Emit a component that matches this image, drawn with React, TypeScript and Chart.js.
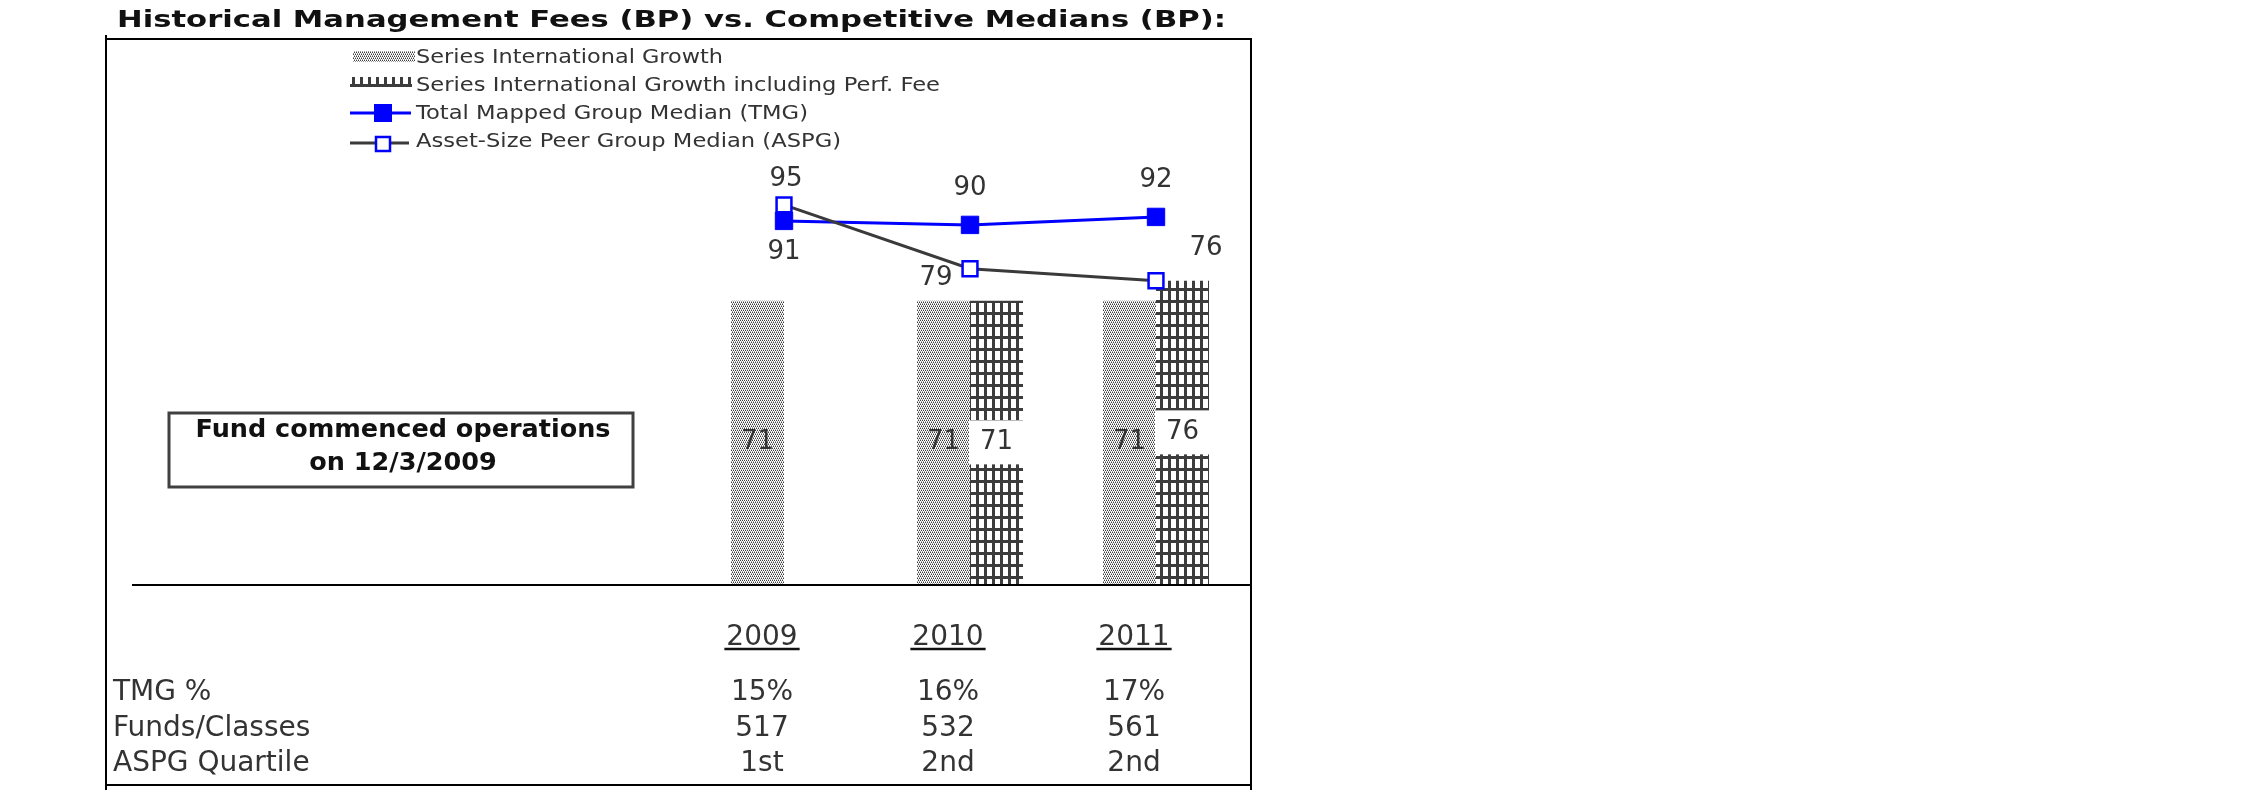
import React, { useEffect, useRef } from 'react';
import { Chart, registerables } from 'chart.js';

Chart.register(...registerables);

// ---------- data ----------
const TITLE = 'Historical Management Fees (BP) vs. Competitive Medians (BP):';
const LEAD_SLOTS = ['', '', ''];
const YEARS = ['2009', '2010', '2011'];
const SERIES_NAMES = [
  'Series International Growth',
  'Series International Growth including Perf. Fee',
  'Total Mapped Group Median (TMG)',
  'Asset-Size Peer Group Median (ASPG)',
];
const BASE_FEE: (number | null)[] = [71, 71, 71];
const PERF_FEE: (number | null)[] = [null, 71, 76];
const TMG: (number | null)[] = [91, 90, 92];
const ASPG: (number | null)[] = [95, 79, 76];
const Y_MAX = 100;

const TABLE_LABELS = ['TMG %', 'Funds/Classes', 'ASPG Quartile'];
const TMG_PCT = ['15%', '16%', '17%'];
const FUNDS_CLASSES = ['517', '532', '561'];
const ASPG_QUARTILE = ['1st', '2nd', '2nd'];
const NOTE_LINES = ['Fund commenced operations', 'on 12/3/2009'];

// label placement for line series (offsets from the point)
const TMG_LABEL_OFFSETS = [
  { dx: 0, dy: 31 },
  { dx: 0, dy: -37 },
  { dx: 0, dy: -37 },
];
const ASPG_LABEL_OFFSETS = [
  { dx: 2, dy: -26 },
  { dx: -34, dy: 9 },
  { dx: 50, dy: -33 },
];

const FONT = '"DejaVu Sans", Verdana, sans-serif';
const TEXT_COLOR = '#333333';

function makeDotPattern(ctx: CanvasRenderingContext2D): CanvasPattern | string {
  const c = document.createElement('canvas');
  c.width = 4;
  c.height = 4;
  const g = c.getContext('2d')!;
  g.fillStyle = '#ffffff';
  g.fillRect(0, 0, 4, 4);
  g.fillStyle = '#404040';
  g.fillRect(0, 0, 1, 1);
  g.fillRect(2, 0, 1, 1);
  g.fillRect(1, 2, 1, 1);
  g.fillRect(3, 2, 1, 1);
  g.fillStyle = '#a0a0a0';
  g.fillRect(1, 1, 1, 1);
  g.fillRect(3, 1, 1, 1);
  g.fillRect(0, 3, 1, 1);
  g.fillRect(2, 3, 1, 1);
  return ctx.createPattern(c, 'repeat') || '#bbb';
}

function makeGridPattern(ctx: CanvasRenderingContext2D): CanvasPattern | string {
  const c = document.createElement('canvas');
  c.width = 8;
  c.height = 12;
  const g = c.getContext('2d')!;
  g.fillStyle = '#ffffff';
  g.fillRect(0, 0, 8, 12);
  g.fillStyle = '#3c3c3c';
  g.fillRect(0, 0, 3, 12);
  g.fillRect(0, 0, 8, 3);
  return ctx.createPattern(c, 'repeat') || '#555';
}

function drawText(
  ctx: CanvasRenderingContext2D,
  str: string,
  x: number,
  y: number,
  font: string,
  color: string,
  align: CanvasTextAlign = 'left',
  targetW?: number,
  scaleX?: number,
  baseline: CanvasTextBaseline = 'alphabetic'
): number {
  ctx.save();
  ctx.font = font;
  ctx.fillStyle = color;
  ctx.textBaseline = baseline;
  ctx.textAlign = align;
  const w = ctx.measureText(str).width;
  const sx = targetW ? targetW / w : scaleX || 1;
  ctx.translate(x, y);
  ctx.scale(sx, 1);
  ctx.fillText(str, 0, 0);
  ctx.restore();
  return sx;
}

export default function App() {
  const ref = useRef<HTMLCanvasElement | null>(null);

  useEffect(() => {
    const canvas = ref.current;
    if (!canvas) return;
    const ctx0 = canvas.getContext('2d')!;
    const dot = makeDotPattern(ctx0);
    const grid = makeGridPattern(ctx0);
    const pad = (arr: (number | null)[]) => [...LEAD_SLOTS.map(() => null), ...arr];

    const decor = {
      id: 'decor',
      beforeDraw(chart: any) {
        const ctx = chart.ctx as CanvasRenderingContext2D;
        ctx.save();
        ctx.fillStyle = '#ffffff';
        ctx.fillRect(0, 0, chart.width, chart.height);
        ctx.restore();
      },
      afterDatasetsDraw(chart: any) {
        const ctx = chart.ctx as CanvasRenderingContext2D;
        const area = chart.chartArea;
        const labelFont = `26px ${FONT}`;

        // bar value labels
        [0, 1].forEach((di) => {
          const meta = chart.getDatasetMeta(di);
          const src = di === 0 ? BASE_FEE : PERF_FEE;
          src.forEach((v, i) => {
            if (v == null) return;
            const el: any = meta.data[LEAD_SLOTS.length + i];
            if (!el) return;
            const cy = (el.y + el.base) / 2;
            if (di === 1) {
              ctx.save();
              ctx.fillStyle = '#ffffff';
              ctx.fillRect(el.x - el.width / 2 - 1, cy - 22, el.width + 2, 44);
              ctx.restore();
            }
            drawText(ctx, String(v), el.x, cy, labelFont, TEXT_COLOR, 'center', undefined, 1, 'middle');
          });
        });

        // line labels
        const lineLabels: [number, (number | null)[], { dx: number; dy: number }[]][] = [
          [2, TMG, TMG_LABEL_OFFSETS],
          [3, ASPG, ASPG_LABEL_OFFSETS],
        ];
        lineLabels.forEach(([di, src, offs]) => {
          const meta = chart.getDatasetMeta(di);
          src.forEach((v, i) => {
            if (v == null) return;
            const el: any = meta.data[LEAD_SLOTS.length + i];
            drawText(ctx, String(v), el.x + offs[i].dx, el.y + offs[i].dy, labelFont, TEXT_COLOR, 'center', undefined, 1, 'middle');
          });
        });

        // base axis line
        ctx.save();
        ctx.strokeStyle = '#000000';
        ctx.lineWidth = 2;
        ctx.beginPath();
        ctx.moveTo(area.left - 1, area.bottom + 1);
        ctx.lineTo(1251, area.bottom + 1);
        ctx.stroke();
        ctx.restore();
      },
      afterDraw(chart: any) {
        const ctx = chart.ctx as CanvasRenderingContext2D;
        const xs = chart.scales.x;

        // title
        drawText(ctx, TITLE, 117, 27, `bold 23px ${FONT}`, '#111111', 'left', 1109);

        // outer frame
        ctx.save();
        ctx.strokeStyle = '#000000';
        ctx.lineWidth = 2;
        ctx.beginPath();
        ctx.moveTo(106, 35);
        ctx.lineTo(106, 790);
        ctx.moveTo(105, 39);
        ctx.lineTo(1252, 39);
        ctx.moveTo(1251, 39);
        ctx.lineTo(1251, 790);
        ctx.moveTo(105, 785);
        ctx.lineTo(1252, 785);
        ctx.stroke();
        ctx.restore();

        // legend
        const legFont = `19px ${FONT}`;
        const rows = [63, 91, 119, 147];
        const widths = [307, 524, 392, 425];
        ctx.save();
        ctx.fillStyle = dot as any;
        ctx.fillRect(353, 51, 62, 11);
        ctx.fillStyle = grid as any;
        ctx.fillRect(350, 77, 62, 10);
        // TMG swatch
        ctx.strokeStyle = '#0000ff';
        ctx.lineWidth = 3;
        ctx.beginPath();
        ctx.moveTo(350, 113);
        ctx.lineTo(411, 113);
        ctx.stroke();
        ctx.fillStyle = '#0000ff';
        ctx.fillRect(374, 104, 18, 18);
        // ASPG swatch
        ctx.strokeStyle = '#3a3a3a';
        ctx.beginPath();
        ctx.moveTo(350, 143);
        ctx.lineTo(409, 143);
        ctx.stroke();
        ctx.fillStyle = '#ffffff';
        ctx.fillRect(376, 137, 14, 14);
        ctx.strokeStyle = '#0000ff';
        ctx.lineWidth = 2.5;
        ctx.strokeRect(376, 137, 14, 14);
        ctx.restore();
        SERIES_NAMES.forEach((name, i) => {
          drawText(ctx, name, 416, rows[i], legFont, TEXT_COLOR, 'left', widths[i]);
        });

        // note box
        ctx.save();
        ctx.fillStyle = '#ffffff';
        ctx.fillRect(169, 413, 464, 74);
        ctx.strokeStyle = '#404040';
        ctx.lineWidth = 3;
        ctx.strokeRect(169, 413, 464, 74);
        ctx.restore();
        const noteFont = `bold 25px ${FONT}`;
        const sx = drawText(ctx, NOTE_LINES[0], 403, 437, noteFont, '#111111', 'center', 415);
        drawText(ctx, NOTE_LINES[1], 403, 470, noteFont, '#111111', 'center', undefined, sx);

        // data table
        const tFont = `28px ${FONT}`;
        const colX = (i: number) => xs.getPixelForValue(LEAD_SLOTS.length + i) - 22;
        YEARS.forEach((y, i) => {
          const cx = colX(i);
          drawText(ctx, y, cx, 645, tFont, TEXT_COLOR, 'center');
          ctx.save();
          ctx.font = tFont;
          const w = ctx.measureText(y).width;
          ctx.strokeStyle = '#111111';
          ctx.lineWidth = 2.5;
          ctx.beginPath();
          ctx.moveTo(cx - w / 2 - 2, 649);
          ctx.lineTo(cx + w / 2 + 2, 649);
          ctx.stroke();
          ctx.restore();
        });
        const rowY = [700, 736, 771];
        const rowVals = [TMG_PCT, FUNDS_CLASSES, ASPG_QUARTILE];
        TABLE_LABELS.forEach((lab, r) => {
          drawText(ctx, lab, 113, rowY[r], tFont, TEXT_COLOR, 'left');
          rowVals[r].forEach((v, i) => {
            drawText(ctx, v, colX(i), rowY[r], tFont, TEXT_COLOR, 'center');
          });
        });
      },
    };

    const chart = new Chart(canvas, {
      data: {
        labels: [...LEAD_SLOTS, ...YEARS],
        datasets: [
          {
            type: 'bar',
            label: SERIES_NAMES[0],
            data: pad(BASE_FEE),
            backgroundColor: dot as any,
            borderWidth: 0,
            categoryPercentage: 0.57,
            barPercentage: 1,
            order: 2,
          },
          {
            type: 'bar',
            label: SERIES_NAMES[1],
            data: pad(PERF_FEE),
            backgroundColor: grid as any,
            borderWidth: 0,
            categoryPercentage: 0.57,
            barPercentage: 1,
            order: 3,
          },
          {
            type: 'line',
            label: SERIES_NAMES[2],
            data: pad(TMG),
            borderColor: '#0000ff',
            borderWidth: 3,
            pointStyle: 'rect',
            pointRadius: 12.3,
            pointBackgroundColor: '#0000ff',
            pointBorderColor: '#0000ff',
            pointBorderWidth: 1,
            order: 1,
          },
          {
            type: 'line',
            label: SERIES_NAMES[3],
            data: pad(ASPG),
            borderColor: '#3a3a3a',
            borderWidth: 3,
            pointStyle: 'rect',
            pointRadius: 10.5,
            pointBackgroundColor: '#ffffff',
            pointBorderColor: '#0000ff',
            pointBorderWidth: 2.5,
            order: 0,
          },
        ],
      } as any,
      options: {
        animation: false,
        responsive: false,
        devicePixelRatio: 1,
        events: [],
        layout: { padding: { left: 133, right: 1001, top: 185, bottom: 212 } },
        plugins: {
          legend: { display: false },
          title: { display: false },
          tooltip: { enabled: false },
        },
        scales: {
          x: { display: false, offset: true },
          y: { display: false, min: 0, max: Y_MAX },
        },
      } as any,
      plugins: [decor],
    });
    return () => chart.destroy();
  }, []);

  return (
    <canvas
      ref={ref}
      width={2250}
      height={796}
      style={{ position: 'fixed', left: 0, top: 0, width: 2250, height: 796, display: 'block' }}
    />
  );
}
